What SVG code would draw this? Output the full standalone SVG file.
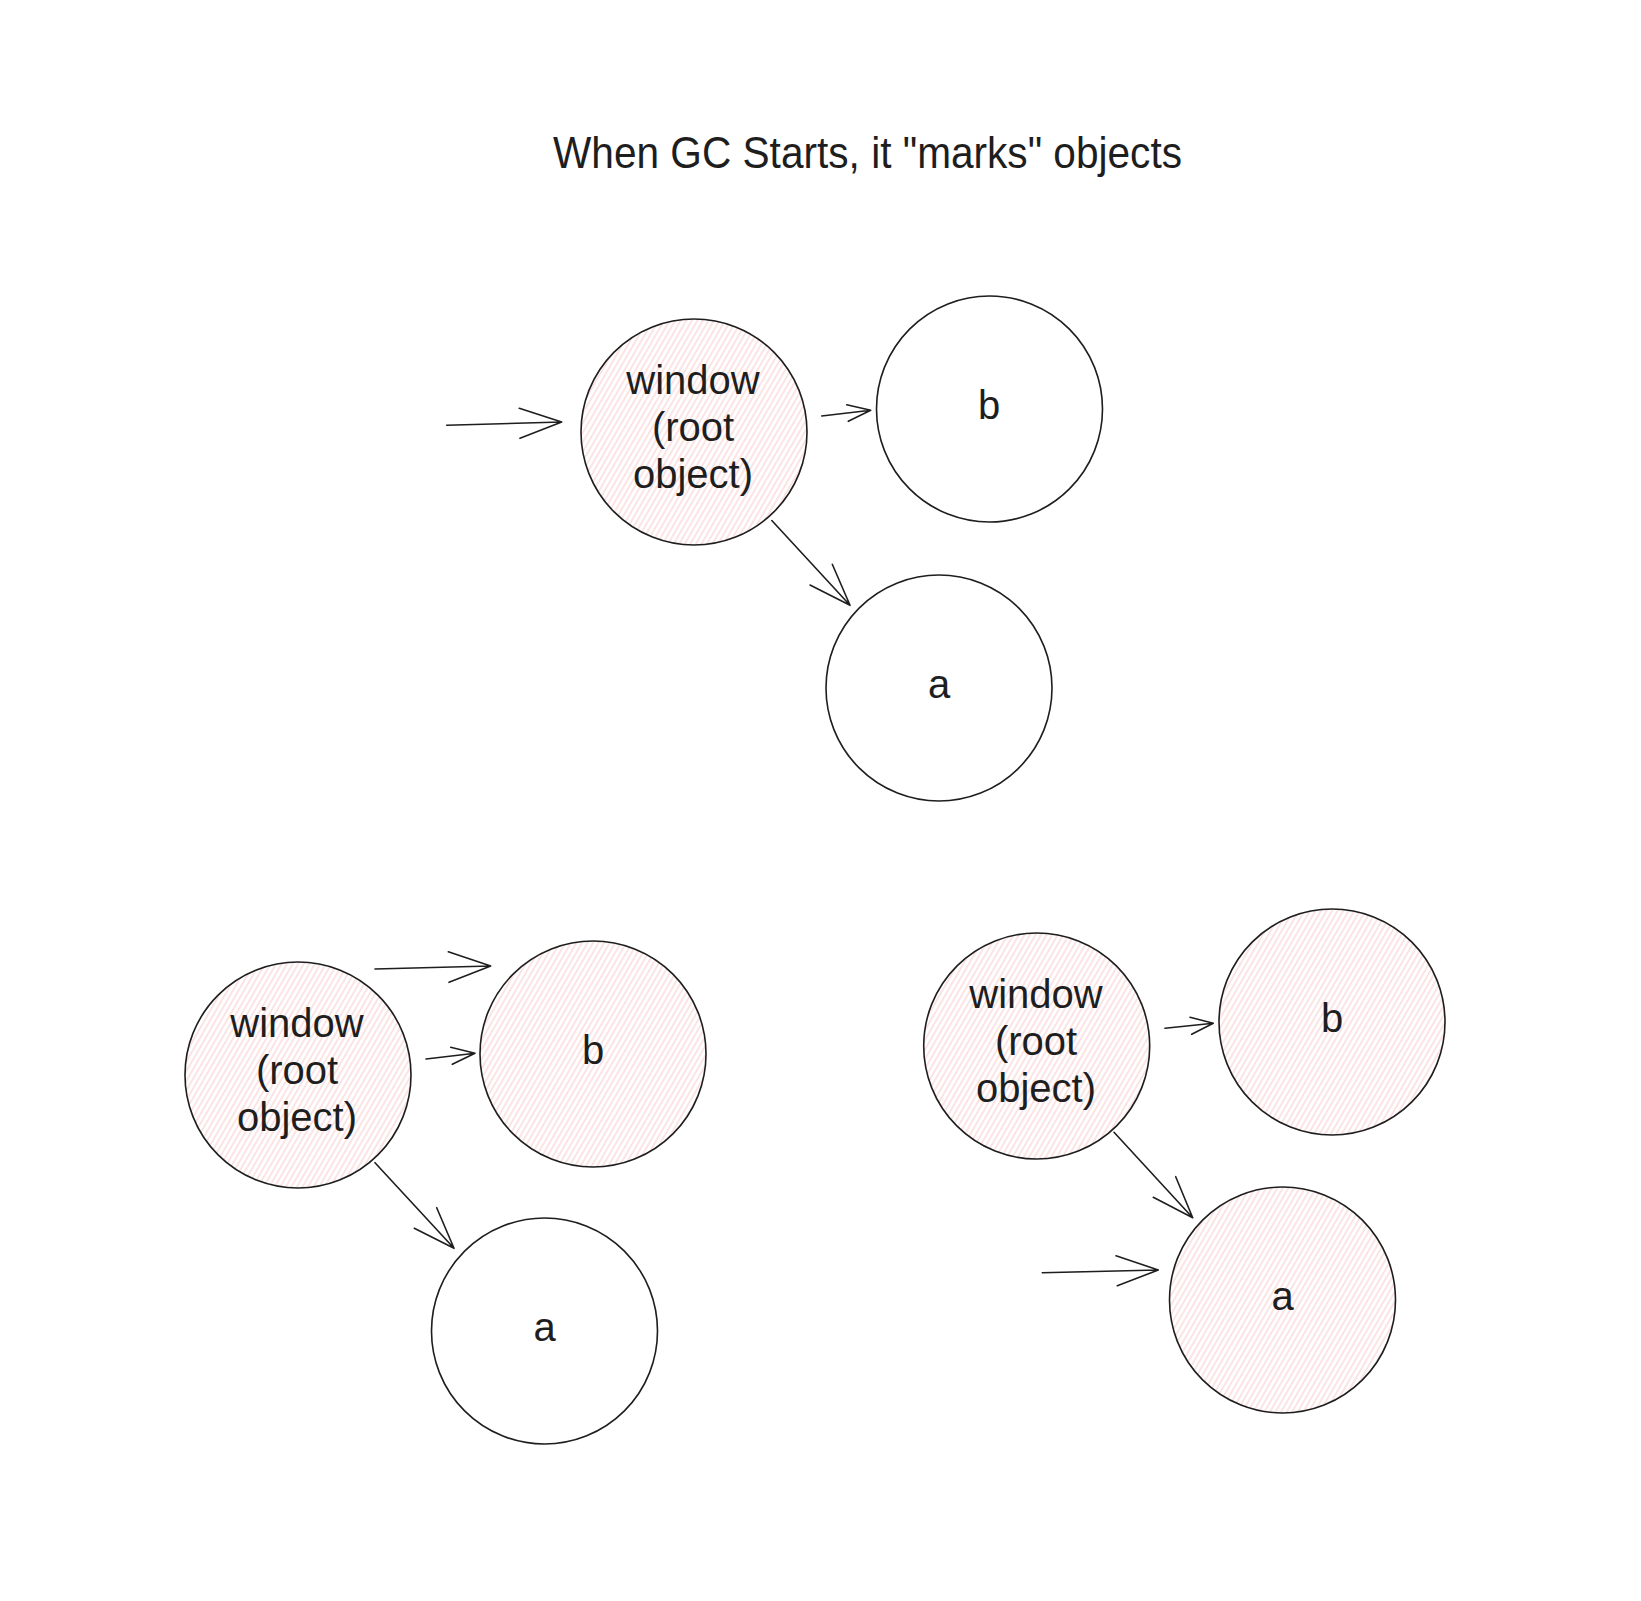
<svg xmlns="http://www.w3.org/2000/svg" width="1641" height="1601" viewBox="0 0 1641 1601">
<style>
.node{stroke:#1e1e1e;stroke-width:1.6}
.hatch{fill:url(#hatch)}
.plain{fill:#ffffff}
.lbl{font-family:"Liberation Sans",Arial,sans-serif;font-size:40px;fill:#1e1e1e;text-anchor:middle}
.title{font-family:"Liberation Sans",Arial,sans-serif;font-size:44px;fill:#1e1e1e}
.edge{fill:none;stroke:#1e1e1e;stroke-width:1.6;stroke-linecap:round;stroke-linejoin:round}
</style>
<defs>
<pattern id="hatch" patternUnits="userSpaceOnUse" width="4.8" height="10" patternTransform="rotate(30)">
<rect width="4.8" height="10" fill="#ffffff"/>
<line x1="1" y1="0" x2="1" y2="10" stroke="#f8c2c2" stroke-width="0.9"/>
</pattern>
</defs>
<rect width="1641" height="1601" fill="#ffffff"/>
<text class="title" x="553" y="168" textLength="629" lengthAdjust="spacingAndGlyphs">When GC Starts, it "marks" objects</text>

<g id="top-window"><circle class="node hatch" cx="694" cy="432" r="113"/>
<text class="lbl" x="693" y="394">window</text><text class="lbl" x="693" y="441">(root</text><text class="lbl" x="693" y="488">object)</text></g>
<g id="top-b"><circle class="node plain" cx="989.5" cy="409" r="113"/><text class="lbl" x="989" y="419">b</text></g>
<g id="top-a"><circle class="node plain" cx="939" cy="688" r="113"/><text class="lbl" x="939" y="698">a</text></g>

<g id="bl-window"><circle class="node hatch" cx="298" cy="1075" r="113"/>
<text class="lbl" x="297" y="1037">window</text><text class="lbl" x="297" y="1084">(root</text><text class="lbl" x="297" y="1131">object)</text></g>
<g id="bl-b"><circle class="node hatch" cx="593" cy="1054" r="113"/><text class="lbl" x="593" y="1064">b</text></g>
<g id="bl-a"><circle class="node plain" cx="544.5" cy="1331" r="113"/><text class="lbl" x="544.5" y="1341">a</text></g>

<g id="br-window"><circle class="node hatch" cx="1036.7" cy="1046" r="113"/>
<text class="lbl" x="1036" y="1008">window</text><text class="lbl" x="1036" y="1055">(root</text><text class="lbl" x="1036" y="1102">object)</text></g>
<g id="br-b"><circle class="node hatch" cx="1332" cy="1022" r="113"/><text class="lbl" x="1332" y="1032">b</text></g>
<g id="br-a"><circle class="node hatch" cx="1282.5" cy="1300" r="113"/><text class="lbl" x="1282.5" y="1310">a</text></g>

<g id="connectors">
<path class="edge" d="M446.7 425.3 L561.7 422 M519.3 408.3 L561.7 422 L520 438.3"/>
<path class="edge" d="M821.7 416 L870.7 410.3 M846.7 404.7 L870.7 410.3 L848.3 421.3"/>
<path class="edge" d="M771.8 520.5 L850 605.3 M832.3 564.3 L850 605.3 L810 585"/>

<path class="edge" d="M375 969 L490.7 966 M448.3 951.7 L490.7 966 L449 982.3"/>
<path class="edge" d="M426 1059 L475 1053.3 M450.7 1047.3 L475 1053.3 L452.3 1064.3"/>
<path class="edge" d="M375 1162.7 L454 1248.3 M436.7 1207.7 L454 1248.3 L414.3 1228.3"/>

<path class="edge" d="M1165 1028.3 L1213.3 1023.3 M1190 1017.3 L1213.3 1023.3 L1191.7 1034.3"/>
<path class="edge" d="M1114 1132.3 L1192.7 1217.7 M1175.7 1176.7 L1192.7 1217.7 L1153.3 1197.3"/>
<path class="edge" d="M1042.3 1272.7 L1158.3 1270 M1116 1255.7 L1158.3 1270 L1117.3 1285.7"/>
</g>
</svg>
